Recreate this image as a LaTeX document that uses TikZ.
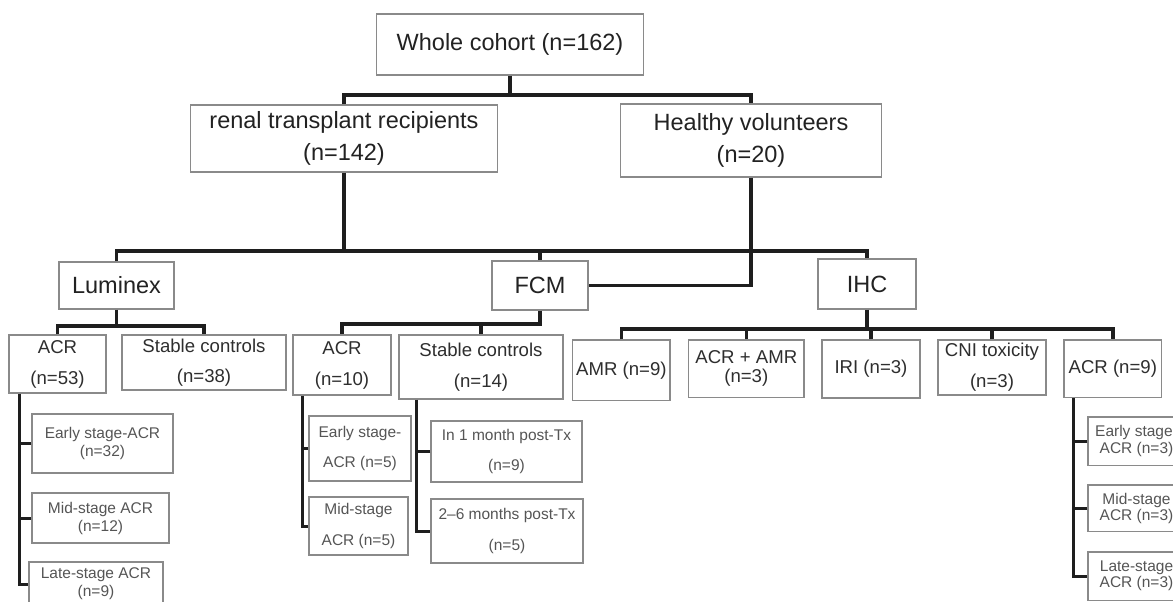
\documentclass[tikz,border=0pt]{standalone}
\usepackage{fontspec}
\setmainfont{Liberation Sans}
\definecolor{boxgray}{HTML}{8A8A8A}
\definecolor{linek}{HTML}{1E1E1E}
\definecolor{txtA}{HTML}{222222}
\definecolor{txtB}{HTML}{2E2E2E}
\definecolor{txtC}{HTML}{555555}
\begin{document}
\begin{tikzpicture}[x=1pt,y=-1pt,
  box/.style={draw=boxgray, line width=1.3pt, inner sep=0pt, align=center, fill=white},
  big/.style={box, font=\fontsize{23.5}{32}\selectfont, text=txtA},
  mid/.style={box, font=\fontsize{18.6}{31}\selectfont, text=txtB},
  small/.style={box, font=\fontsize{15.5}{18}\selectfont, text=txtC},
  smallw/.style={box, font=\fontsize{15.5}{30.5}\selectfont, text=txtC},
  smalln/.style={box, font=\fontsize{15.5}{16.5}\selectfont, text=txtC},
  sz/.style 2 args={minimum width=#1pt, minimum height=#2pt},
  conn/.style={draw=linek, line width=3.4pt},
  connb/.style={draw=linek, line width=3pt}
]
\useasboundingbox (0,0) rectangle (1173,602);
\clip (0,0) rectangle (1173,602);
\fill[white] (0,0) rectangle (1173,602);

% level 1-2
\node[big, sz={266.5}{61}] (whole) at (510,44.5) {Whole cohort (n=162)};
\node[big, sz={307.5}{67}] (renal) at (344,138.5) {renal transplant recipients\\(n=142)};
\node[big, sz={261}{73}] (healthy) at (751,140.5) {Healthy volunteers\\(n=20)};
\node[big, sz={115}{47}] (lum) at (116.5,285.5) {Luminex};
\node[big, sz={96}{49}] (fcm) at (540,285.5) {FCM};
\node[big, sz={98}{50}] (ihc) at (867,284) {IHC};

% level 3
\node[mid, sz={97}{58}] (acr53) at (57.5,364) {ACR\\(n=53)};
\node[mid, sz={164}{55}, font=\fontsize{18.6}{30}\selectfont] (st38) at (204,362.5) {Stable controls\\(n=38)};
\node[mid, sz={98}{60}] (acr10) at (342,365) {ACR\\(n=10)};
\node[mid, sz={164}{64}] (st14) at (481,367) {Stable controls\\(n=14)};
\node[mid, sz={97.3}{60.7}] (amr) at (621.4,370.3) {AMR (n=9)};
\node[mid, sz={115.3}{57.7}, font=\fontsize{18.6}{19}\selectfont] (acramr) at (746.3,368.8) {ACR + AMR\\(n=3)};
\node[mid, sz={98}{58}] (iri) at (871,369) {IRI (n=3)};
\node[mid, sz={108}{55}] (cni) at (992,367.5) {CNI toxicity\\(n=3)};
\node[mid, sz={97.7}{57.7}] (acr9) at (1112.8,368.8) {ACR (n=9)};

% level 4
\node[small, sz={141}{59}] (e1) at (102.5,443.5) {Early stage-ACR\\(n=32)};
\node[small, sz={137}{50}] (m1) at (100.5,518) {Mid-stage ACR\\(n=12)};
\node[small, sz={134}{44}] (l1) at (96,584) {Late-stage ACR\\(n=9)};
\node[smallw, sz={102}{65}] (e2) at (360,448.5) {Early stage-\\ACR (n=5)};
\node[smallw, sz={99}{58}] (m2) at (358.5,526) {Mid-stage\\ACR (n=5)};
\node[smallw, sz={151}{61}] (s1) at (506.5,451.5) {In 1 month post-Tx\\(n=9)};
\node[smallw, sz={152}{64}] (s2) at (507,531) {2–6 months post-Tx\\(n=5)};
\node[smalln, sz={97}{48.3}] (e3) at (1136.5,441) {Early stage-\\ACR (n=3)};
\node[smalln, sz={97}{46.7}] (m3) at (1136.5,508.3) {Mid-stage\\ACR (n=3)};
\node[smalln, sz={97}{48.3}] (l3) at (1136.5,576) {Late-stage\\ACR (n=3)};

% connectors
\coordinate (b1) at (0,95);
\coordinate (b2) at (0,251);
\coordinate (b3) at (0,326);
\coordinate (b4) at (0,324);
\coordinate (b5) at (0,329);

\draw[conn] (whole.south) -- (whole.south |- b1);
\draw[conn] (renal.north) |- (healthy.north |- b1) -- (healthy.north);

\draw[conn, line width=4pt] (renal.south) -- (renal.south |- b2);
\draw[conn] (lum.north) |- (ihc.north |- b2) -- (ihc.north);
\draw[conn] (fcm.north) -- (fcm.north |- b2);
\draw[conn] (healthy.south) |- (fcm.east);

\draw[conn] (lum.south) -- (lum.south |- b3);
\draw[conn] (acr53.north) |- (st38.north |- b3) -- (st38.north);

\draw[conn] (fcm.south) |- (acr10.north |- b4) -- (acr10.north);
\draw[conn] (st14.north) -- (st14.north |- b4);

\draw[conn] (ihc.south) -- (ihc.south |- b5);
\draw[conn] (amr.north) |- (acr9.north |- b5) -- (acr9.north);
\draw[conn] (acramr.north) -- (acramr.north |- b5);
\draw[conn] (iri.north) -- (iri.north |- b5);
\draw[conn] (cni.north) -- (cni.north |- b5);

\coordinate (v1) at ([xshift=11pt]acr53.south west);
\draw[connb] (v1) |- (l1.west);
\draw[connb] (e1.west) -- (e1.west -| v1);
\draw[connb] (m1.west) -- (m1.west -| v1);

\coordinate (v2) at ([xshift=10pt]acr10.south west);
\draw[connb] (v2) |- (m2.west);
\draw[connb] (e2.west) -- (e2.west -| v2);

\coordinate (v3) at ([xshift=18pt]st14.south west);
\draw[connb] (v3) |- (s2.west);
\draw[connb] (s1.west) -- (s1.west -| v3);

\coordinate (v4) at ([xshift=10pt]acr9.south west);
\draw[connb] (v4) |- (l3.west);
\draw[connb] (e3.west) -- (e3.west -| v4);
\draw[connb] (m3.west) -- (m3.west -| v4);
\end{tikzpicture}
\end{document}
